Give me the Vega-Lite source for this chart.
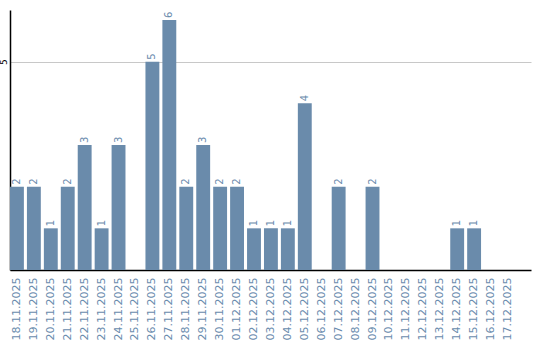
{
  "$schema": "https://vega.github.io/schema/vega-lite/v6.json",
  "autosize": {"type": "none"},
  "width": 521,
  "height": 260,
  "padding": {"left": 10, "top": 10, "right": 9, "bottom": 70},
  "background": "white",
  "config": {"view": {"stroke": null}, "font": "DejaVu Sans"},
  "data": {"values": [
    {"date": "18.11.2025", "count": 2},
    {"date": "19.11.2025", "count": 2},
    {"date": "20.11.2025", "count": 1},
    {"date": "21.11.2025", "count": 2},
    {"date": "22.11.2025", "count": 3},
    {"date": "23.11.2025", "count": 1},
    {"date": "24.11.2025", "count": 3},
    {"date": "25.11.2025", "count": 0},
    {"date": "26.11.2025", "count": 5},
    {"date": "27.11.2025", "count": 6},
    {"date": "28.11.2025", "count": 2},
    {"date": "29.11.2025", "count": 3},
    {"date": "30.11.2025", "count": 2},
    {"date": "01.12.2025", "count": 2},
    {"date": "02.12.2025", "count": 1},
    {"date": "03.12.2025", "count": 1},
    {"date": "04.12.2025", "count": 1},
    {"date": "05.12.2025", "count": 4},
    {"date": "06.12.2025", "count": 0},
    {"date": "07.12.2025", "count": 2},
    {"date": "08.12.2025", "count": 0},
    {"date": "09.12.2025", "count": 2},
    {"date": "10.12.2025", "count": 0},
    {"date": "11.12.2025", "count": 0},
    {"date": "12.12.2025", "count": 0},
    {"date": "13.12.2025", "count": 0},
    {"date": "14.12.2025", "count": 1},
    {"date": "15.12.2025", "count": 1},
    {"date": "16.12.2025", "count": 0},
    {"date": "17.12.2025", "count": 0}
  ]},
  "encoding": {
    "x": {
      "field": "date", "type": "nominal", "sort": null,
      "scale": {"paddingInner": 0.18, "paddingOuter": 0.475, "align": 0},
      "axis": {"title": null, "labelAngle": -90, "labelColor": "#6a8bad", "labelFontSize": 11, "labelPadding": 7, "ticks": false, "domainColor": "#000000", "domainWidth": 1.5, "grid": false}
    },
    "y": {
      "field": "count", "type": "quantitative",
      "scale": {"domain": [0, 6.24], "nice": false},
      "axis": {"title": null, "values": [5], "grid": true, "gridColor": "#c8c8c8", "ticks": false, "domainColor": "#000000", "domainWidth": 1.5, "labelAngle": -90, "labelFontSize": 9, "labelColor": "#000000", "labelPadding": 2}
    }
  },
  "layer": [
    {"mark": {"type": "bar", "color": "#6a8bab"}},
    {
      "transform": [{"filter": "datum.count > 0"}],
      "mark": {"type": "text", "angle": -90, "align": "left", "baseline": "middle", "dx": 2, "fontSize": 10, "color": "#6a8bad"},
      "encoding": {"text": {"field": "count", "type": "quantitative"}}
    }
  ]
}
